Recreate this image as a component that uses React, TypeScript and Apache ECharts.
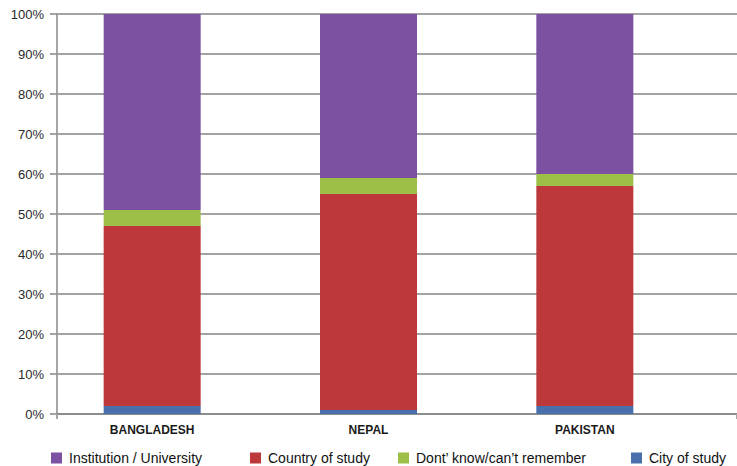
import React, { useEffect, useRef } from "react";
import * as echarts from "echarts";

const categories = ["BANGLADESH", "NEPAL", "PAKISTAN"];
const cityOfStudy = [2, 1, 2];
const countryOfStudy = [45, 54, 55];
const dontKnow = [4, 4, 3];
const institution = [49, 41, 40];
const yTicks = [0, 10, 20, 30, 40, 50, 60, 70, 80, 90, 100];

const seriesNames = [
  "Institution / University",
  "Country of study",
  "Dont’ know/can’t remember",
  "City of study",
];
const colors = {
  inst: "#7c51a1",
  country: "#bd383a",
  dont: "#9dbf47",
  city: "#4a6fad",
};

const FONT = "'Liberation Sans', Arial, sans-serif";

export default function App() {
  const ref = useRef<HTMLDivElement>(null);
  useEffect(() => {
    if (!ref.current) return;
    const chart = echarts.init(ref.current, undefined, { renderer: "svg" });
    const legendLefts = [51, 250, 398, 631];
    const option: any = {
      animation: false,
      backgroundColor: "#ffffff",
      textStyle: { fontFamily: FONT },
      grid: [
        { left: 57, right: 0, top: 14, bottom: 52 },
        { left: 44, right: 44, top: 14, bottom: 52 },
      ],
      xAxis: [
        {
          type: "category",
          gridIndex: 0,
          data: [""],
          axisLine: { show: true, lineStyle: { color: "#858585", width: 1.5 } },
          axisTick: { show: true, length: 5, lineStyle: { color: "#a6a6a6", width: 2 } },
          axisLabel: { show: false },
          splitLine: { show: false },
        },
        {
          type: "category",
          gridIndex: 1,
          data: categories,
          axisLine: { show: false },
          axisTick: { show: false },
          axisLabel: {
            margin: 10,
            fontSize: 12,
            fontWeight: "bold",
            color: "#1a1a1a",
            fontFamily: FONT,
          },
        },
      ],
      yAxis: [
        {
          type: "value",
          gridIndex: 0,
          min: yTicks[0],
          max: yTicks[yTicks.length - 1],
          interval: 10,
          axisLine: { show: true, lineStyle: { color: "#a6a6a6", width: 2 } },
          axisTick: { show: true, length: 7, lineStyle: { color: "#858585", width: 1.5 } },
          axisLabel: {
            margin: 13,
            fontSize: 13,
            color: "#2a2a2a",
            fontFamily: FONT,
            formatter: (v: number) => v + "%",
          },
          splitLine: { show: true, lineStyle: { color: "#858585", width: 1.5 } },
        },
        {
          type: "value",
          gridIndex: 1,
          min: 0,
          max: 100,
          show: false,
        },
      ],
      legend: seriesNames.map((name, i) => ({
        data: [name],
        left: legendLefts[i],
        top: 451,
        itemWidth: 11,
        itemHeight: 11,
        icon: "rect",
        padding: 0,
        textStyle: { fontSize: 14, color: "#111111", fontFamily: FONT, padding: [0, 0, 0, 2] },
      })),
      series: [
        {
          name: seriesNames[3],
          type: "bar",
          stack: "total",
          xAxisIndex: 1,
          yAxisIndex: 1,
          barWidth: 97,
          data: cityOfStudy,
          itemStyle: { color: colors.city },
        },
        {
          name: seriesNames[1],
          type: "bar",
          stack: "total",
          xAxisIndex: 1,
          yAxisIndex: 1,
          barWidth: 97,
          data: countryOfStudy,
          itemStyle: { color: colors.country },
        },
        {
          name: seriesNames[2],
          type: "bar",
          stack: "total",
          xAxisIndex: 1,
          yAxisIndex: 1,
          barWidth: 97,
          data: dontKnow,
          itemStyle: { color: colors.dont },
        },
        {
          name: seriesNames[0],
          type: "bar",
          stack: "total",
          xAxisIndex: 1,
          yAxisIndex: 1,
          barWidth: 97,
          data: institution,
          itemStyle: { color: colors.inst },
        },
      ],
    };
    chart.setOption(option);
    return () => chart.dispose();
  }, []);
  return (
    <div
      ref={ref}
      style={{ position: "fixed", left: 0, top: 0, width: 737, height: 466 }}
    />
  );
}
